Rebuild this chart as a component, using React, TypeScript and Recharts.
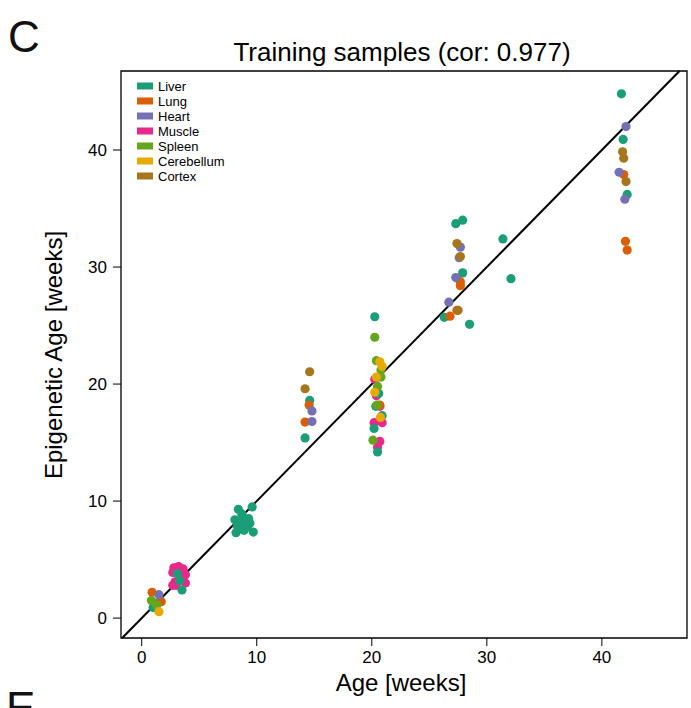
import React from "react";
import {
  ScatterChart,
  Scatter,
  XAxis,
  YAxis,
  ReferenceLine,
  ReferenceArea,
} from "recharts";

// [age, epigenetic age] pairs per tissue
const liver = [
  [1.0, 0.9], [1.4, 1.3], [3.1, 3.8], [3.5, 2.4], [3.3, 3.2],
  [8.1, 8.4], [8.4, 9.3], [9.6, 9.5], [8.2, 7.3], [9.7, 7.35], [8.6, 8.0],
  [8.8, 8.6], [9.0, 8.2], [9.2, 7.8], [8.5, 7.6], [9.3, 8.5], [8.9, 7.5],
  [8.7, 8.9], [9.1, 8.0], [8.3, 7.9], [9.4, 8.1],
  [14.6, 18.6], [14.2, 15.4],
  [20.26, 25.75], [20.6, 19.2], [20.35, 18.1], [20.9, 17.3], [20.2, 16.2], [20.5, 14.2],
  [27.3, 33.7], [27.9, 34.0], [31.4, 32.4], [27.9, 29.5], [32.1, 29.0], [26.3, 25.7], [28.5, 25.1],
  [41.7, 44.8], [41.85, 40.9], [42.2, 36.2],
];
const lung = [
  [0.9, 2.2], [1.7, 1.4],
  [14.55, 18.2], [14.2, 16.75],
  [20.7, 18.2],
  [27.7, 28.75], [27.7, 28.4], [27.4, 26.3], [26.8, 25.8],
  [41.9, 37.9], [42.05, 32.2], [42.2, 31.45],
];
const heart = [
  [1.5, 2.0],
  [14.8, 17.7], [14.8, 16.8],
  [27.7, 31.7], [27.6, 30.8], [27.3, 29.1], [26.7, 27.0],
  [42.1, 42.0], [41.5, 38.1], [42.0, 35.8],
];
const muscle = [
  [2.8, 4.3], [3.2, 4.4], [3.6, 4.2], [2.7, 3.9], [3.8, 3.7],
  [2.9, 3.1], [3.8, 3.0], [2.7, 2.8], [3.5, 3.6], [3.0, 2.8],
  [20.26, 20.4], [20.4, 19.0], [20.7, 18.1], [20.2, 16.7], [20.9, 16.7], [20.7, 15.1], [20.5, 14.6],
];
const spleen = [
  [0.84, 1.5], [1.3, 1.1],
  [20.26, 24.0], [20.4, 22.0], [20.8, 21.2], [20.8, 20.6], [20.5, 19.8], [20.45, 18.2], [20.1, 15.2],
];
const cerebellum = [
  [1.5, 0.55],
  [20.7, 21.9], [20.9, 21.5], [20.4, 20.6], [20.26, 19.3], [20.75, 17.15],
];
const cortex = [
  [14.6, 21.05], [14.2, 19.6],
  [27.4, 32.0], [27.7, 30.9], [27.5, 26.3],
  [41.8, 39.85], [41.9, 39.3], [42.1, 37.3],
];

const tissueNames = ["Liver", "Lung", "Heart", "Muscle", "Spleen", "Cerebellum", "Cortex"];
const tissueColors = ["#1B9E77", "#D95F02", "#7570B3", "#E7298A", "#66A61E", "#E6AB02", "#A6761D"];
const tissueData = [liver, lung, heart, muscle, spleen, cerebellum, cortex];
// order the tissues are drawn in (muscle first so liver shows through at 3 weeks)
const drawOrder = [3, 0, 1, 2, 4, 5, 6];

const xTicks = [0, 10, 20, 30, 40];
const yTicks = [0, 10, 20, 30, 40];
const xDomain = [-1.8, 47.4];
const yDomain = [-1.7, 46.75];

const font = "'Liberation Sans', Arial, Helvetica, sans-serif";

const dot = (color: string) => (props: any) =>
  <circle cx={props.cx} cy={props.cy} r={4.6} fill={color} />;

export default function App() {
  const series = tissueNames.map((name, i) => ({
    name,
    color: tissueColors[i],
    points: tissueData[i].map(([x, y]) => ({ x, y })),
  }));

  return (
    <div style={{ position: "absolute", left: 0, top: 0, width: 691, height: 708, fontFamily: font, background: "#fff" }}>
      <ScatterChart width={691} height={708} margin={{ top: 71, right: 4, bottom: 30, left: 61 }}>
        <XAxis
          type="number"
          dataKey="x"
          domain={xDomain}
          ticks={xTicks}
          allowDataOverflow
          height={40}
          axisLine={false}
          tickSize={8}
          tickMargin={5}
          tickLine={{ stroke: "#000" }}
          tick={{ fill: "#000", fontSize: 17 }}
        />
        <YAxis
          type="number"
          dataKey="y"
          domain={yDomain}
          ticks={yTicks}
          allowDataOverflow
          width={60}
          axisLine={false}
          tickSize={8}
          tickMargin={6}
          tickLine={{ stroke: "#000" }}
          tick={{ fill: "#000", fontSize: 17 }}
        />
        <ReferenceArea
          x1={xDomain[0]}
          x2={xDomain[1]}
          y1={yDomain[0]}
          y2={yDomain[1]}
          fill="none"
          fillOpacity={0}
          stroke="#000"
          strokeWidth={1.3}
        />
        {drawOrder.map((i) => (
          <Scatter
            key={series[i].name}
            name={series[i].name}
            data={series[i].points}
            fill={series[i].color}
            shape={dot(series[i].color)}
            isAnimationActive={false}
          />
        ))}
        <ReferenceLine
          segment={[{ x: -1.7, y: -1.7 }, { x: 46.75, y: 46.75 }]}
          stroke="#000"
          strokeWidth={2}
        />
      </ScatterChart>
      <svg
        width={691}
        height={708}
        style={{ position: "absolute", left: 0, top: 0, pointerEvents: "none", fontFamily: font }}
      >
        <text x={8} y={52} fontSize={44} fill="#111">C</text>
        <text x={6} y={723} fontSize={44} fill="#111">E</text>
        <text x={402} y={61} fontSize={26} textAnchor="middle" fill="#000">
          Training samples (cor: 0.977)
        </text>
        <text x={401} y={691} fontSize={24} textAnchor="middle" fill="#000">
          Age [weeks]
        </text>
        <text
          x={0}
          y={0}
          fontSize={24}
          textAnchor="middle"
          fill="#000"
          transform="translate(62,355) rotate(-90)"
        >
          Epigenetic Age [weeks]
        </text>
        {series.map((s, i) => (
          <g key={s.name}>
            <rect x={137} y={86 + i * 15 - 3.5} width={16} height={7} fill={s.color} />
            <text x={158} y={86 + i * 15 + 4.7} fontSize={13} fill="#000">
              {s.name}
            </text>
          </g>
        ))}
      </svg>
    </div>
  );
}
